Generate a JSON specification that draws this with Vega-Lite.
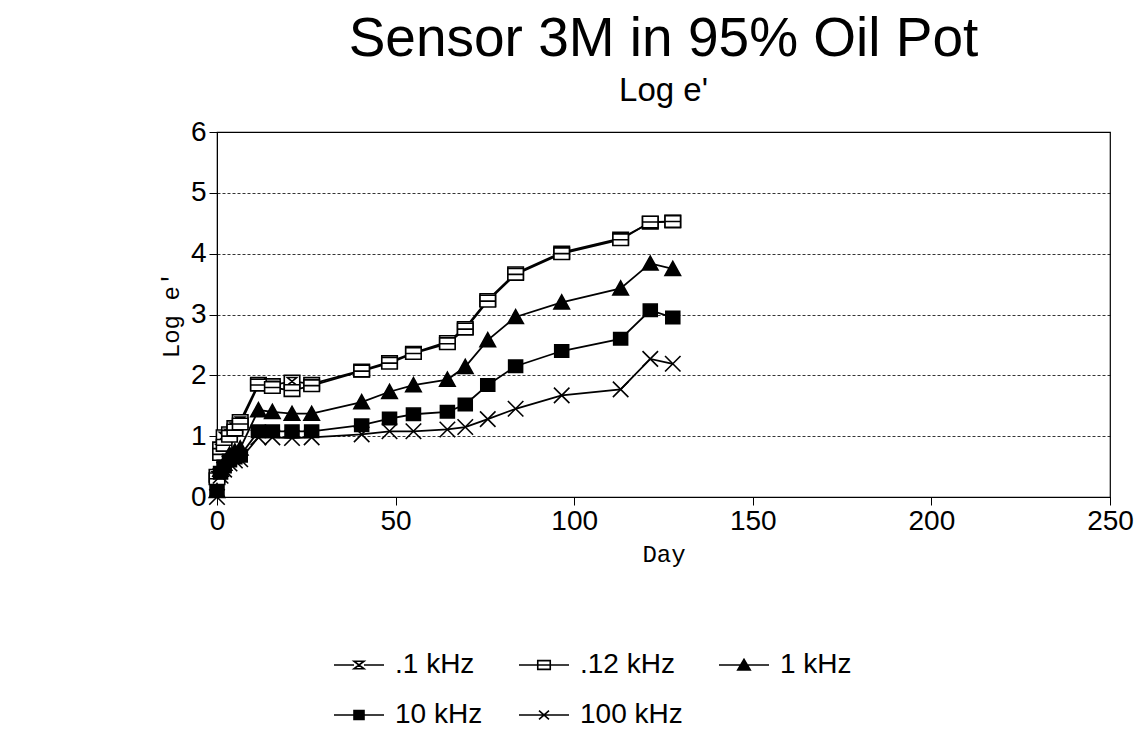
{
  "$schema": "https://vega.github.io/schema/vega-lite/v6.json",
  "autosize": {"type": "none"},
  "width": 893,
  "height": 365,
  "padding": {"left": 217, "top": 132, "right": 35, "bottom": 234},
  "background": "white",
  "title": {
    "text": "Sensor 3M in 95% Oil Pot",
    "subtitle": "Log e'",
    "anchor": "middle",
    "font": "Liberation Sans",
    "fontSize": 55,
    "fontWeight": "normal",
    "color": "black",
    "subtitleFont": "Liberation Sans",
    "subtitleFontSize": 33,
    "subtitleColor": "black",
    "subtitlePadding": 7,
    "offset": 9
  },
  "config": {
    "view": {"stroke": "black", "strokeWidth": 1.2},
    "axis": {
      "domainColor": "black",
      "tickColor": "black",
      "labelColor": "black",
      "titleColor": "black",
      "labelFont": "Liberation Sans",
      "labelFontSize": 28,
      "titleFont": "Liberation Mono",
      "titleFontSize": 24,
      "titleFontWeight": "normal",
      "tickSize": 8
    }
  },
  "data": {
    "values": [
      {"series": ".1 kHz", "day": 0, "v": 0.35}, {"series": ".1 kHz", "day": 1, "v": 0.8}, {"series": ".1 kHz", "day": 2, "v": 1.0},
      {"series": ".1 kHz", "day": 3.5, "v": 1.05}, {"series": ".1 kHz", "day": 5, "v": 1.15}, {"series": ".1 kHz", "day": 6.5, "v": 1.25},
      {"series": ".1 kHz", "day": 11.6, "v": 1.86}, {"series": ".1 kHz", "day": 15.5, "v": 1.84}, {"series": ".1 kHz", "day": 21, "v": 1.9},
      {"series": ".1 kHz", "day": 26.5, "v": 1.86}, {"series": ".1 kHz", "day": 40.5, "v": 2.08}, {"series": ".1 kHz", "day": 48.3, "v": 2.22},
      {"series": ".1 kHz", "day": 55, "v": 2.37}, {"series": ".1 kHz", "day": 64.5, "v": 2.55}, {"series": ".1 kHz", "day": 69.5, "v": 2.78},
      {"series": ".1 kHz", "day": 75.8, "v": 3.24}, {"series": ".1 kHz", "day": 83.6, "v": 3.68}, {"series": ".1 kHz", "day": 96.5, "v": 4.02},
      {"series": ".1 kHz", "day": 113, "v": 4.25}, {"series": ".1 kHz", "day": 121.3, "v": 4.51}, {"series": ".1 kHz", "day": 127.6, "v": 4.53},

      {"series": ".12 kHz", "day": 0, "v": 0.3}, {"series": ".12 kHz", "day": 1, "v": 0.7}, {"series": ".12 kHz", "day": 2, "v": 0.85},
      {"series": ".12 kHz", "day": 3.5, "v": 1.0}, {"series": ".12 kHz", "day": 5, "v": 1.1}, {"series": ".12 kHz", "day": 6.5, "v": 1.2},
      {"series": ".12 kHz", "day": 11.6, "v": 1.84}, {"series": ".12 kHz", "day": 15.5, "v": 1.8}, {"series": ".12 kHz", "day": 21, "v": 1.75},
      {"series": ".12 kHz", "day": 26.5, "v": 1.83}, {"series": ".12 kHz", "day": 40.5, "v": 2.07}, {"series": ".12 kHz", "day": 48.3, "v": 2.2},
      {"series": ".12 kHz", "day": 55, "v": 2.36}, {"series": ".12 kHz", "day": 64.5, "v": 2.52}, {"series": ".12 kHz", "day": 69.5, "v": 2.76},
      {"series": ".12 kHz", "day": 75.8, "v": 3.22}, {"series": ".12 kHz", "day": 83.6, "v": 3.66}, {"series": ".12 kHz", "day": 96.5, "v": 4.0},
      {"series": ".12 kHz", "day": 113, "v": 4.23}, {"series": ".12 kHz", "day": 121.3, "v": 4.52}, {"series": ".12 kHz", "day": 127.6, "v": 4.53},

      {"series": "1 kHz", "day": 0, "v": 0.1}, {"series": "1 kHz", "day": 1, "v": 0.45}, {"series": "1 kHz", "day": 2, "v": 0.55},
      {"series": "1 kHz", "day": 3.5, "v": 0.7}, {"series": "1 kHz", "day": 5, "v": 0.75}, {"series": "1 kHz", "day": 6.5, "v": 0.8},
      {"series": "1 kHz", "day": 11.6, "v": 1.43}, {"series": "1 kHz", "day": 15.5, "v": 1.4}, {"series": "1 kHz", "day": 21, "v": 1.37},
      {"series": "1 kHz", "day": 26.5, "v": 1.37}, {"series": "1 kHz", "day": 40.5, "v": 1.56}, {"series": "1 kHz", "day": 48.3, "v": 1.73},
      {"series": "1 kHz", "day": 55, "v": 1.84}, {"series": "1 kHz", "day": 64.5, "v": 1.93}, {"series": "1 kHz", "day": 69.5, "v": 2.14},
      {"series": "1 kHz", "day": 75.8, "v": 2.58}, {"series": "1 kHz", "day": 83.6, "v": 2.96}, {"series": "1 kHz", "day": 96.5, "v": 3.2},
      {"series": "1 kHz", "day": 113, "v": 3.43}, {"series": "1 kHz", "day": 121.3, "v": 3.84}, {"series": "1 kHz", "day": 127.6, "v": 3.75},

      {"series": "10 kHz", "day": 0, "v": 0.1}, {"series": "10 kHz", "day": 1, "v": 0.4}, {"series": "10 kHz", "day": 2, "v": 0.5},
      {"series": "10 kHz", "day": 3.5, "v": 0.6}, {"series": "10 kHz", "day": 5, "v": 0.65}, {"series": "10 kHz", "day": 6.5, "v": 0.68},
      {"series": "10 kHz", "day": 11.6, "v": 1.08}, {"series": "10 kHz", "day": 15.5, "v": 1.08}, {"series": "10 kHz", "day": 21, "v": 1.08},
      {"series": "10 kHz", "day": 26.5, "v": 1.08}, {"series": "10 kHz", "day": 40.5, "v": 1.18}, {"series": "10 kHz", "day": 48.3, "v": 1.29},
      {"series": "10 kHz", "day": 55, "v": 1.36}, {"series": "10 kHz", "day": 64.5, "v": 1.4}, {"series": "10 kHz", "day": 69.5, "v": 1.52},
      {"series": "10 kHz", "day": 75.8, "v": 1.84}, {"series": "10 kHz", "day": 83.6, "v": 2.15}, {"series": "10 kHz", "day": 96.5, "v": 2.4},
      {"series": "10 kHz", "day": 113, "v": 2.6}, {"series": "10 kHz", "day": 121.3, "v": 3.07}, {"series": "10 kHz", "day": 127.6, "v": 2.95},

      {"series": "100 kHz", "day": 0, "v": 0.0}, {"series": "100 kHz", "day": 1, "v": 0.35}, {"series": "100 kHz", "day": 2, "v": 0.45},
      {"series": "100 kHz", "day": 3.5, "v": 0.55}, {"series": "100 kHz", "day": 5, "v": 0.6}, {"series": "100 kHz", "day": 6.5, "v": 0.62},
      {"series": "100 kHz", "day": 11.6, "v": 0.98}, {"series": "100 kHz", "day": 15.5, "v": 0.98}, {"series": "100 kHz", "day": 21, "v": 0.97},
      {"series": "100 kHz", "day": 26.5, "v": 0.98}, {"series": "100 kHz", "day": 40.5, "v": 1.03}, {"series": "100 kHz", "day": 48.3, "v": 1.08},
      {"series": "100 kHz", "day": 55, "v": 1.08}, {"series": "100 kHz", "day": 64.5, "v": 1.11}, {"series": "100 kHz", "day": 69.5, "v": 1.15},
      {"series": "100 kHz", "day": 75.8, "v": 1.28}, {"series": "100 kHz", "day": 83.6, "v": 1.45}, {"series": "100 kHz", "day": 96.5, "v": 1.67},
      {"series": "100 kHz", "day": 113, "v": 1.77}, {"series": "100 kHz", "day": 121.3, "v": 2.27}, {"series": "100 kHz", "day": 127.6, "v": 2.19}
    ]
  },
  "encoding": {
    "x": {
      "field": "day", "type": "quantitative",
      "scale": {"domain": [0, 250], "nice": false, "zero": false},
      "axis": {"values": [0, 50, 100, 150, 200, 250], "grid": false, "title": "Day", "labelFlush": false, "labelPadding": 2, "titlePadding": 7}
    },
    "y": {
      "field": "v", "type": "quantitative",
      "scale": {"domain": [0, 6], "nice": false},
      "axis": {"values": [0, 1, 2, 3, 4, 5, 6], "grid": true, "gridColor": "black", "gridDash": [3, 2], "gridWidth": 0.8, "title": "Log e'", "labelFlush": false, "labelPadding": 3, "titlePadding": 7}
    }
  },
  "layer": [
    {
      "mark": {"type": "line", "color": "black", "strokeWidth": 1.8},
      "encoding": {"detail": {"field": "series"}}
    },
    {
      "mark": {"type": "point", "filled": true, "stroke": "black", "strokeWidth": 1.6, "opacity": 1, "size": 240},
      "encoding": {
        "shape": {
          "field": "series", "type": "nominal",
          "scale": {
            "domain": [".1 kHz", ".12 kHz", "1 kHz", "10 kHz", "100 kHz"],
            "range": [
              "M-1,-0.8H1V0.8H-1Z M-0.6,-0.5H0.6L-0.6,0.5H0.6Z",
              "M-1,-0.75H1V0.75H-1Z M-1,0H1",
              "M-1,0.85L0,-0.95L1,0.85Z",
              "M-0.9,-0.8H0.9V0.8H-0.9Z",
              "M-1,-1L1,1M-1,1L1,-1"
            ]
          },
          "legend": null
        },
        "fill": {
          "field": "series", "type": "nominal",
          "scale": {
            "domain": [".1 kHz", ".12 kHz", "1 kHz", "10 kHz", "100 kHz"],
            "range": ["white", "white", "black", "black", "white"]
          },
          "legend": null
        }
      }
    },
    {
      "transform": [{"filter": "false"}],
      "mark": {"type": "point", "filled": true, "strokeWidth": 1.6, "opacity": 1},
      "encoding": {
        "shape": {
          "field": "series", "type": "nominal",
          "scale": {
            "domain": [".1 kHz", ".12 kHz", "1 kHz", "10 kHz", "100 kHz"],
            "range": [
              "M-2,0H-0.4M0.4,0H2M-0.4,-0.3H0.4L-0.4,0.3H0.4Z",
              "M-2,0H2M-0.5,-0.35H0.5V0.35H-0.5Z",
              "M-2,0H2M-0.5,0.4L0,-0.45L0.5,0.4Z",
              "M-2,0H2M-0.4,-0.35H0.4V0.35H-0.4Z",
              "M-2,0H2M-0.4,-0.35L0.4,0.35M-0.4,0.35L0.4,-0.35"
            ]
          },
          "legend": {
            "title": null,
            "orient": "none",
            "legendX": 128,
            "legendY": 519,
            "direction": "horizontal",
            "columns": 3,
            "padding": 0,
            "columnPadding": 32,
            "rowPadding": 22,
            "symbolSize": 625,
            "symbolStrokeWidth": 1.6,
            "labelFont": "Liberation Sans",
            "labelFontSize": 28,
            "labelColor": "black",
            "labelOffset": 22
          }
        },
        "fill": {
          "field": "series", "type": "nominal",
          "scale": {
            "domain": [".1 kHz", ".12 kHz", "1 kHz", "10 kHz", "100 kHz"],
            "range": ["transparent", "transparent", "black", "black", "transparent"]
          }
        },
        "stroke": {
          "field": "series", "type": "nominal",
          "scale": {
            "domain": [".1 kHz", ".12 kHz", "1 kHz", "10 kHz", "100 kHz"],
            "range": ["black", "black", "black", "black", "black"]
          }
        }
      }
    }
  ],
  "resolve": {"scale": {"shape": "independent", "fill": "independent", "stroke": "independent"}}
}
